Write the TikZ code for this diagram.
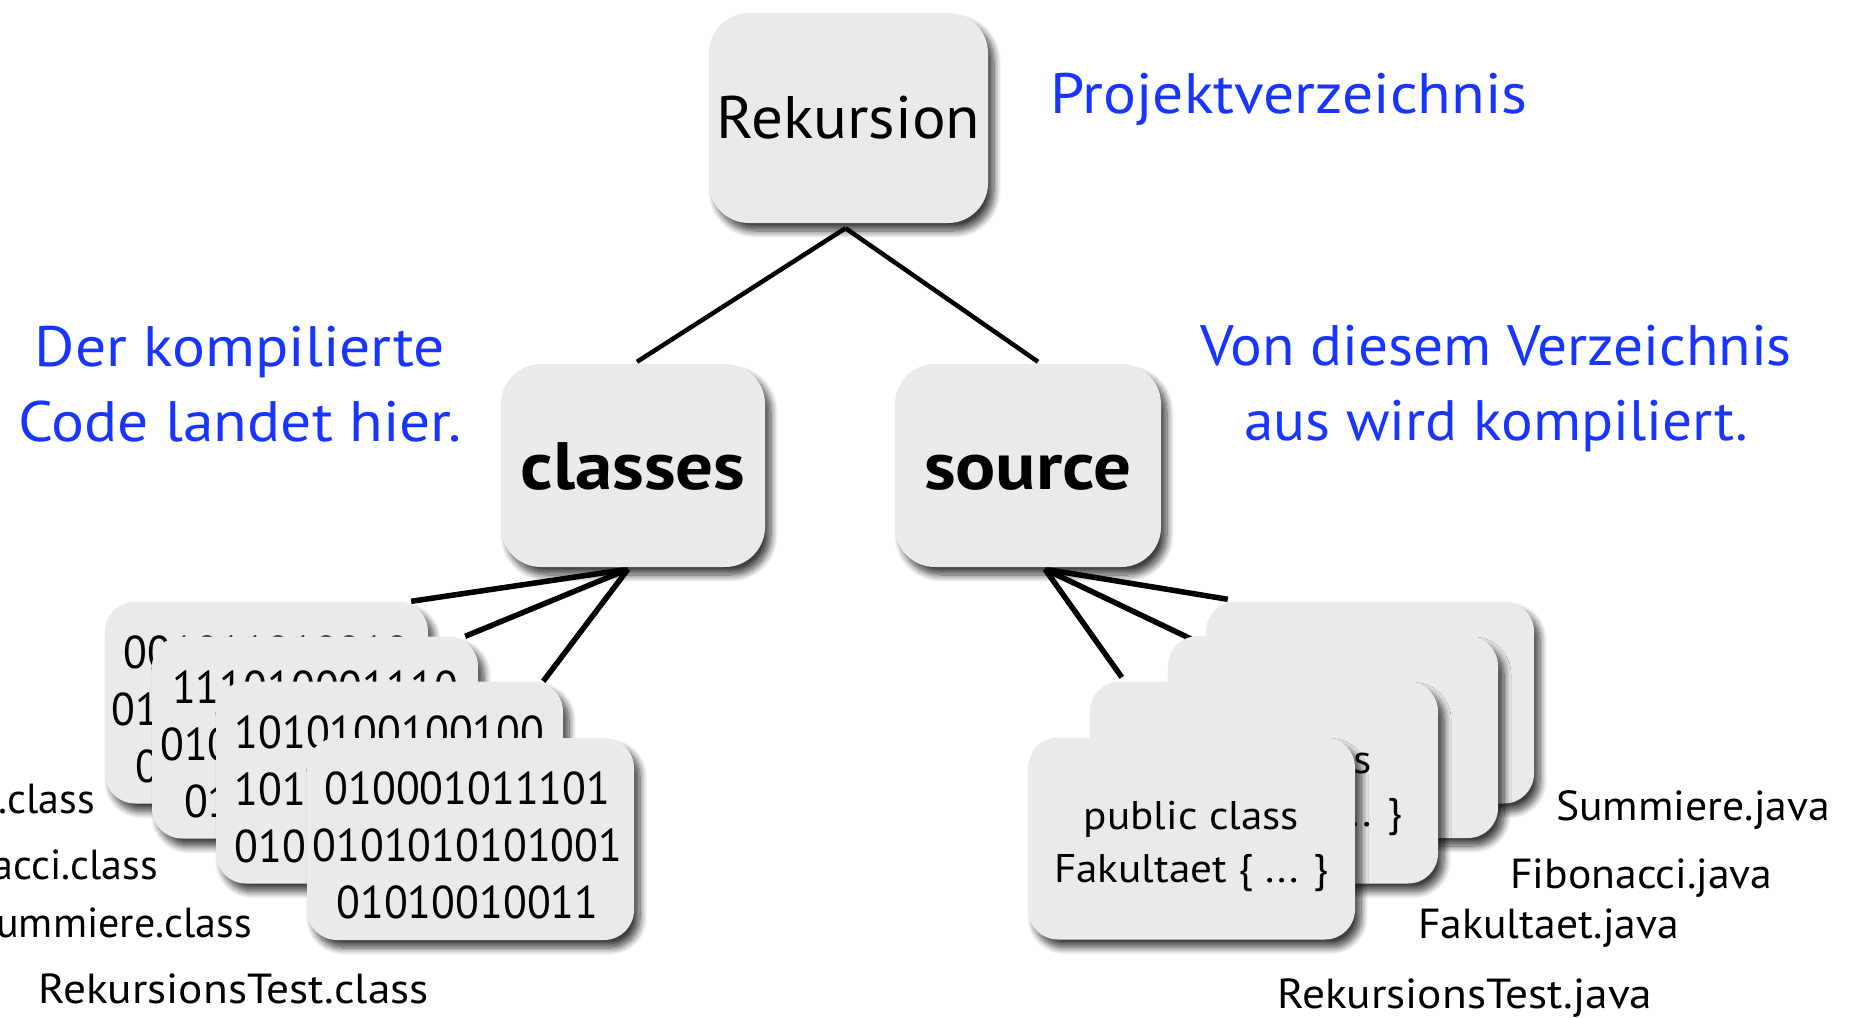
\documentclass[tikz,border=0pt]{standalone}
\usepackage{fontspec}
\setmainfont{PT Sans}
\newfontfamily\fw[FakeStretch=1.08]{PT Sans}
\newfontfamily\fm[FakeStretch=1.04]{PT Sans}
\newfontfamily\fn[FakeStretch=1.0]{PT Sans}
\newfontfamily\fr[FakeStretch=1.05]{PT Sans}
\newfontfamily\fb[FakeStretch=1.12]{PT Sans}
\newfontfamily\fd[FakeStretch=0.95]{PT Sans}
\usetikzlibrary{calc,shadows.blur}
\definecolor{boxgray}{RGB}{234,234,234}
\definecolor{noteblue}{RGB}{24,52,255}
\newcommand\fsz[2]{\fontsize{#1}{#2}\selectfont}
\pgfdeclarelayer{bg}
\pgfsetlayers{bg,main}
\begin{document}
\begin{tikzpicture}[x=1pt,y=-1pt,
  shad/.style={blur shadow={shadow xshift=6pt, shadow yshift=-8pt, shadow blur radius=7pt, shadow blur steps=10, shadow opacity=75}},
  bigbox/.style={shad, rounded corners=40pt, fill=boxgray, inner sep=0pt},
  card/.style={shad, rounded corners=30pt, fill=boxgray, inner sep=0pt, minimum height=202pt},
  conn/.style={line width=4.5pt, black},
  conn2/.style={line width=5.5pt, black},
  bits/.style={font=\fd\fsz{46}{57}, align=center, inner sep=0pt},
  code/.style={font=\fw\fsz{40}{53}, align=center, inner sep=0pt},
  lab/.style={font=\fw\fsz{42}{50}, inner sep=0pt},
  labm/.style={font=\fm\fsz{42}{50}, inner sep=0pt},
  labn/.style={font=\fn\fsz{42}{50}, inner sep=0pt},
  note/.style={font=\fw\fsz{57}{75}, text=noteblue, align=center, inner sep=0pt}]
\useasboundingbox (0,0) rectangle (1851,1017);

% main boxes
\node[bigbox, minimum width=279pt, minimum height=210pt, font=\fr\fsz{60}{70}] (rek) at (848.5,118) {Rekursion};
\node[bigbox, minimum width=264pt, minimum height=203pt, font=\fb\fsz{67}{76}\bfseries, text height=47pt, text depth=0pt] (cls) at (633,465.5) {classes};
\node[bigbox, minimum width=266pt, minimum height=203pt, font=\fb\fsz{67}{76}\bfseries, text height=47pt, text depth=0pt] (src) at (1028,465.5) {source};

% notes
\node[note, anchor=base] (nproj) at (1289,113) {Projektverzeichnis};
\node[note] (nleft) at (240,384) {Der kompilierte\\Code landet hier.};
\node[note, font=\fm\fsz{57}{75}] (nright) at (1496,389) {Von diesem Verzeichnis\\aus wird kompiliert.};

% class cards
\node[card, minimum width=323pt] (cA) at (266.5,702.5) {};
\node[bits] (tA) at ($(cA.north)+(0,108)$) {001011010010\\0110101001010\\01101001011};
\node[card, minimum width=326pt] (cB) at (315,737.5) {};
\node[bits] (tB) at ($(cB.north)+(0,108)$) {111010001110\\0100110101001\\01001011010};
\node[card, minimum width=347pt] (cC) at (389.5,782.5) {};
\node[bits] (tC) at ($(cC.north)+(0,108)$) {1010100100100\\1011010010110\\0101101101001};
\node[card, minimum width=327pt] (cD) at (470.5,839) {};
\node[bits] (tD) at ($(cD.north)+(-3,108)$) {010001011101\\0101010101001\\01010010011};

% java cards
\node[card, minimum width=328pt] (cW) at (1370,702.5) {};
\node[card, minimum width=330pt] (cX) at (1333,737) {};
\node[card, minimum width=348pt] (cY) at (1264,782.5) {};
\node[code] (tY) at ($(cY.north)+(0,109)$) {public class\\Fibonacci \{ ... \}};
\node[card, minimum width=327pt] (cZ) at (1191.5,838.5) {};
\node[code] (tZ) at ($(cZ.north)+(0,109)$) {public class\\Fakultaet \{ ... \}};

% labels
\begin{scope}
\clip (0,0) rectangle (1851,1017);
\node[labn, anchor=base east] (lfak) at (95,813) {Fakultaet.class};
\node[labn, anchor=base east] (lfib) at (158,879) {Fibonacci.class};
\node[labn, anchor=base east] (lsum) at (252,937) {Summiere.class};
\node[lab, anchor=base west] (lrek) at (38,1003) {RekursionsTest.class};
\end{scope}
\node[labm, anchor=base west] (rsum) at (1556,820) {Summiere.java};
\node[labm, anchor=base west] (rfib) at (1510,888) {Fibonacci.java};
\node[labm, anchor=base west] (rfak) at (1418,938) {Fakultaet.java};
\node[lab, anchor=base west] (rrek) at (1277,1008) {RekursionsTest.java};

% connectors
\begin{pgfonlayer}{bg}
\coordinate (apex) at ($(rek.south)+(-3,5)$);
\draw[conn] (apex) -- ($(cls.north)+(4,-2)$);
\draw[conn] (apex) -- ($(src.north)+(10,-2)$);
\coordinate (capex) at ($(cls.south)+(-5,2)$);
\draw[conn2] (capex) -- ($(cA.north east)+(-17,0)$);
\draw[conn2] (capex) -- ($(cB.north east)+(-13,0)$);
\draw[conn2] (capex) -- ($(cC.north east)+(-20,0)$);
\coordinate (sapex) at ($(src.south)+(17,2)$);
\draw[conn2] (sapex) -- ($(cW.north west)+(22,-2)$);
\draw[conn2] (sapex) -- ($(cX.north west)+(23,3)$);
\draw[conn2] (sapex) -- ($(cY.north west)+(32,-4)$);
\end{pgfonlayer}
\end{tikzpicture}
\end{document}
